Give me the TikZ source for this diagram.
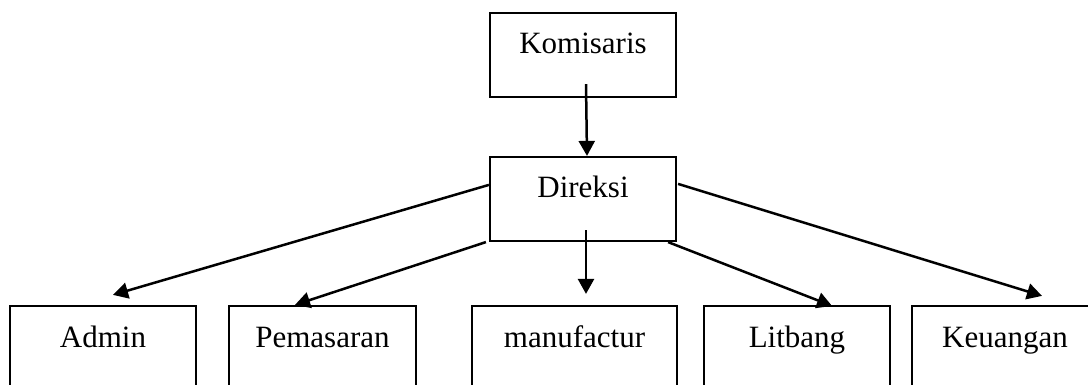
\documentclass[tikz,border=0pt]{standalone}
\usepackage{fontspec}
\setmainfont{Liberation Serif}
\usetikzlibrary{arrows.meta,calc}
\begin{document}
\begin{tikzpicture}[x=1pt,y=-1pt,
  box/.style={draw,line width=2.2pt,inner sep=0pt,minimum height=84pt,
    text height=41pt,text depth=43pt,font=\fontsize{31}{36}\selectfont},
  conn/.style={line width=2.5pt,-{Triangle[length=15pt,width=16pt]}}]
\useasboundingbox (0,0) rectangle (1088,385);
\clip (0,0) rectangle (1088,385);
\node[box,minimum width=186pt] (kom) at (583,55) {Komisaris};
\node[box,minimum width=186pt] (dir) at (583,199) {Direksi};
\node[box,minimum width=186pt] (admin) at (103,348) {Admin};
\node[box,minimum width=187pt] (pem) at (322.5,348) {Pemasaran};
\node[box,minimum width=205pt] (man) at (574.5,348) {manufactur};
\node[box,minimum width=186pt] (lit) at (797,348) {Litbang};
\node[box,minimum width=186pt] (keu) at (1005,348) {Keuangan};
\draw[conn] ($(kom.south)+(3,-14)$) -- ($(dir.north)+(4,0)$);
\draw[conn] ($(dir.north west)+(0,29)$) -- ($(admin.north)+(10,-10)$);
\draw[conn] ($(dir.south west)+(-3,0)$) -- ($(pem.north)+(-27.5,0)$);
\draw[conn] ($(dir.south)+(3,-12)$) -- ($(man.north)+(11.5,-11)$);
\draw[conn] ($(dir.south east)+(-9,0)$) -- ($(lit.north)+(35,1)$);
\draw[conn] ($(dir.north east)+(1,28)$) -- ($(keu.north)+(37,-9)$);
\end{tikzpicture}
\end{document}
